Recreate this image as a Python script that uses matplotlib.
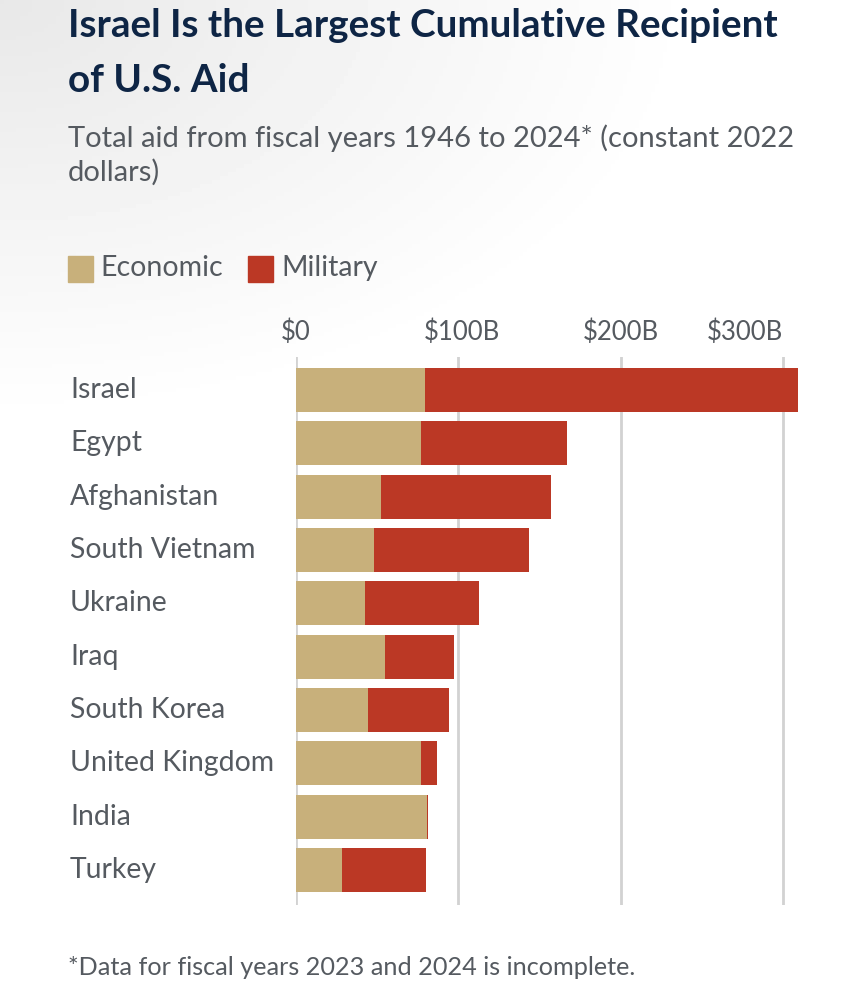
import numpy as np
import matplotlib
matplotlib.use("Agg")
import matplotlib.pyplot as plt

plt.rcParams['font.family'] = ['Lato', 'DejaVu Sans']

countries = ['Israel', 'Egypt', 'Afghanistan', 'South Vietnam', 'Ukraine',
             'Iraq', 'South Korea', 'United Kingdom', 'India', 'Turkey']
economic = [79.5, 77.0, 52.4, 48.1, 42.5, 54.8, 44.4, 77.0, 80.7, 28.3]
total = [309.3, 167.0, 157.1, 143.6, 112.8, 97.4, 94.3, 86.9, 81.6, 80.1]
military = [t - e for t, e in zip(total, economic)]
tick_vals = [0, 100, 200, 300]
tick_labels = ['$0', '$100B', '$200B', '$300B']

TAN = '#c8b07b'
RED = '#bb3825'
GRAY = '#555a60'
NAVY = '#0e2545'

W, H = 867, 1000
fig = plt.figure(figsize=(W / 100, H / 100), dpi=100)

# faint grey wash in the upper-left corner
bg = fig.add_axes([0, 0, 1, 1], zorder=-10)
yy, xx = np.mgrid[0:H:4, 0:W:4]
d = np.sqrt((xx / 700.0) ** 2 + (yy / 420.0) ** 2)
shade = np.clip(0.91 + 0.09 * d, 0, 1)
bg.imshow(shade, cmap='gray', vmin=0, vmax=1, extent=[0, 1, 0, 1],
          aspect='auto', origin='upper')
bg.axis('off')


def px(x, y):
    return x / W, 1 - y / H


# axes in pixel terms: x 296..800, y 357..905
left, right, top, bottom = 296, 800, 357, 905
ax = fig.add_axes([left / W, 1 - bottom / H, (right - left) / W, (bottom - top) / H])
ax.patch.set_alpha(0)

y = np.arange(len(countries))
ax.barh(y, economic, height=0.83, color=TAN, zorder=3)
ax.barh(y, military, left=economic, height=0.83, color=RED, zorder=3)

ax.set_xlim(0, (right - left) / 1.623)
row = 53.33
ax.set_ylim((bottom - 390) / row, (top - 390) / row)

for v in tick_vals:
    ax.axvline(v, color='#d2d2d2', lw=2, zorder=1)

ax.set_yticks([])
for i, c in enumerate(countries):
    ax.text(-(296 - 70) / 1.623, i, c, ha='left', va='center',
            fontsize=20.4, color=GRAY)

ax.set_xticks([])
for v, lab in zip(tick_vals, tick_labels):
    ha = 'right' if v == 300 else 'center'
    xv = v + (2 if v == 100 else 0)
    fig.text((left + xv * 1.623) / W, 1 - 340 / H, lab, ha=ha,
             va='baseline', fontsize=18.5, color=GRAY)

for s in ax.spines.values():
    s.set_visible(False)

# titles
fig.text(*px(68, 37), 'Israel Is the Largest Cumulative Recipient',
         fontsize=27.8, fontweight='bold', color=NAVY, va='baseline')
fig.text(*px(68, 92), 'of U.S. Aid', fontsize=27.8, fontweight='bold',
         color=NAVY, va='baseline')
fig.text(*px(68, 147), 'Total aid from fiscal years 1946 to 2024* (constant 2022',
         fontsize=21, color=GRAY, va='baseline')
fig.text(*px(68, 181), 'dollars)', fontsize=21, color=GRAY, va='baseline')

# legend
fig.patches.append(plt.Rectangle(px(68, 282), 25 / W, 26 / H, color=TAN,
                                 transform=fig.transFigure, figure=fig))
fig.text(*px(100, 276), 'Economic', fontsize=20.5, color=GRAY, va='baseline')
fig.patches.append(plt.Rectangle(px(248, 282), 25 / W, 26 / H, color=RED,
                                 transform=fig.transFigure, figure=fig))
fig.text(*px(281, 276), 'Military', fontsize=20.5, color=GRAY, va='baseline')

fig.text(*px(68, 975), '*Data for fiscal years 2023 and 2024 is incomplete.',
         fontsize=18.2, color=GRAY, va='baseline')

fig.savefig('out.png', dpi=100)
